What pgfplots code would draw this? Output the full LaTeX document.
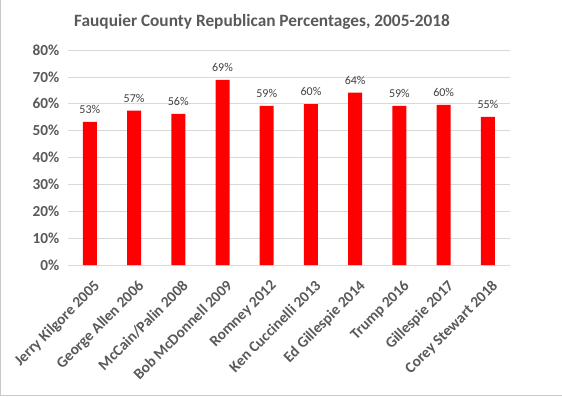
\documentclass[border=0pt]{standalone}
\usepackage{pgfplots}
\pgfplotsset{compat=1.18}
\usepackage{fontspec}
\setmainfont{Carlito}
\definecolor{txt}{HTML}{595959}
\definecolor{lbl}{HTML}{404040}
\definecolor{grd}{HTML}{D9D9D9}
\definecolor{frm}{HTML}{C8C8C8}
\begin{document}
\begin{tikzpicture}
\begin{axis}[
  name=ax, at={(0,0)}, anchor=south west,
  scale only axis, width=442.3pt, height=215pt,
  xmin=-0.5, xmax=9.5, ymin=0, ymax=80,
  ytick={0,10,...,80},
  yticklabel={\pgfmathprintnumber{\tick}\%},
  ymajorgrids, grid style={grd, line width=0.75pt},
  xtick=data,
  xticklabels={Jerry Kilgore 2005, George Allen 2006, McCain/Palin 2008, Bob McDonnell 2009, Romney 2012, Ken Cuccinelli 2013, Ed Gillespie 2014, Trump 2016, Gillespie 2017, Corey Stewart 2018},
  x tick label style={shift={(3pt,-14pt)}, rotate=45, anchor=north east, font=\fontsize{15.3}{16}\selectfont\bfseries, text=txt, inner sep=0pt},
  y tick label style={font=\fontsize{15.3}{16}\selectfont\bfseries, text=txt, xshift=-5pt},
  /pgf/number format/assume math mode=true,
  major tick length=0pt,
  axis x line*=bottom, axis y line*=left,
  y axis line style={draw=none},
  x axis line style={grd, line width=0.75pt, -},
  ybar, bar width=14pt,
  nodes near coords={\pgfmathprintnumber[fixed, precision=0]{\pgfplotspointmeta}\%},
  every node near coord/.append style={font=\fontsize{12}{13}\selectfont, text=lbl, inner sep=2pt, yshift=6pt},
  clip=false,
]
\addplot[fill=red, draw=none] coordinates {
  (0,53.3) (1,57.4) (2,56.2) (3,68.9) (4,59.2) (5,59.9) (6,64.1) (7,59.2) (8,59.6) (9,55.1)
};
\end{axis}
\node[anchor=base, font=\fontsize{17.3}{20}\selectfont\bfseries, text=txt] at (194.3pt,238pt) {Fauquier County Republican Percentages, 2005-2018};
\draw[frm, line width=0.8pt] (-66.9pt,265pt) -- (-66.9pt,-130.3pt) -- (494.3pt,-130.3pt);
\pgfresetboundingbox
\path (-67.7pt,-132pt) rectangle (494.3pt,265pt);
\end{tikzpicture}
\end{document}
